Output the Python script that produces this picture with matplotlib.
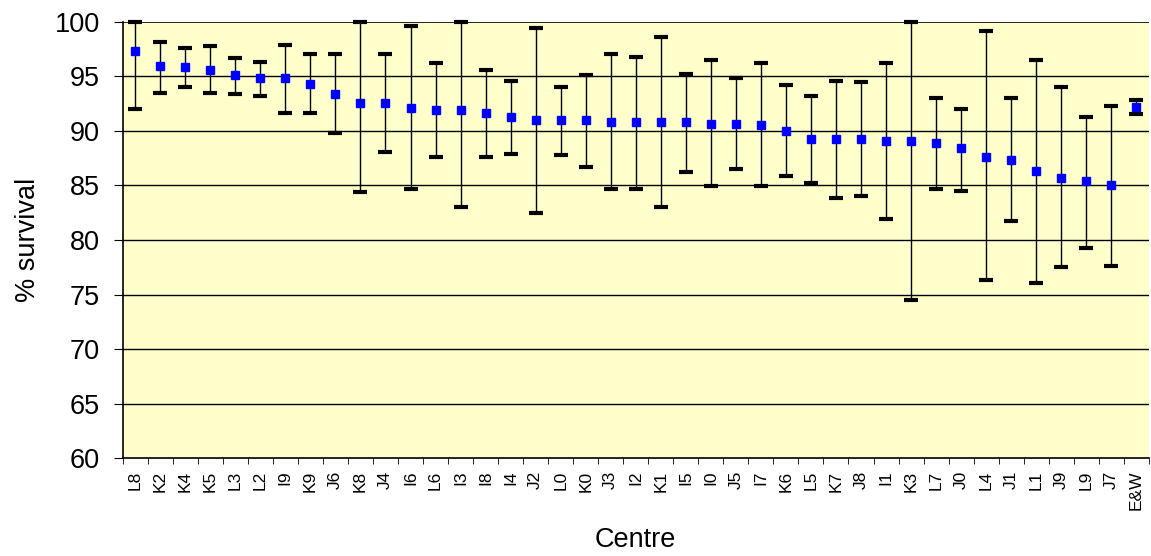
import matplotlib.pyplot as plt
import numpy as np

plt.rcParams["font.family"] = ["Liberation Sans", "DejaVu Sans"]

centres = ["L8", "K2", "K4", "K5", "L3", "L2", "I9", "K9", "J6", "K8",
           "J4", "I6", "L6", "I3", "I8", "I4", "J2", "L0", "K0", "J3",
           "I2", "K1", "I5", "I0", "J5", "I7", "K6", "L5", "K7", "J8",
           "I1", "K3", "L7", "J0", "L4", "J1", "L1", "J9", "L9", "J7", "E&W"]
survival = [97.3, 95.9, 95.8, 95.6, 95.1, 94.8, 94.8, 94.3, 93.4, 92.5,
            92.5, 92.1, 91.9, 91.9, 91.6, 91.3, 91.0, 91.0, 91.0, 90.8,
            90.8, 90.8, 90.8, 90.6, 90.6, 90.5, 90.0, 89.2, 89.2, 89.2,
            89.1, 89.1, 88.9, 88.4, 87.6, 87.3, 86.3, 85.7, 85.4, 85.0, 92.2]
lower = [92.0, 93.5, 94.0, 93.5, 93.4, 93.2, 91.6, 91.6, 89.8, 84.4,
         88.1, 84.7, 87.6, 83.0, 87.6, 87.9, 82.5, 87.8, 86.7, 84.7,
         84.7, 83.0, 86.2, 84.9, 86.5, 84.9, 85.9, 85.2, 83.8, 84.0,
         81.9, 74.5, 84.7, 84.5, 76.3, 81.7, 76.1, 77.5, 79.3, 77.6, 91.5]
upper = [100.0, 98.1, 97.6, 97.8, 96.7, 96.3, 97.9, 97.0, 97.0, 100.0,
         97.0, 99.6, 96.2, 100.0, 95.6, 94.6, 99.4, 94.0, 95.1, 97.0,
         96.8, 98.6, 95.2, 96.5, 94.8, 96.2, 94.2, 93.2, 94.6, 94.5,
         96.2, 100.0, 93.0, 92.0, 99.1, 93.0, 96.5, 94.0, 91.3, 92.3, 92.8]

x = np.arange(len(centres))
surv = np.array(survival)
yerr = [surv - np.array(lower), np.array(upper) - surv]

fig = plt.figure(figsize=(11.51, 5.56), dpi=100)
ax = fig.add_axes([0.1066, 0.1757, 0.8915, 0.7855])
ax.set_facecolor("#FFFFCC")

# horizontal gridlines every 5%
for v in range(65, 100, 5):
    ax.axhline(v, color="black", lw=1, zorder=1)

ax.errorbar(x, surv, yerr=yerr, fmt="none", ecolor="black", elinewidth=1,
            capsize=5, capthick=3, zorder=2, clip_on=False)
ax.plot(x, surv, "s", color="#0000FF", markersize=6, zorder=3)

ax.set_xlim(-0.5, len(centres) - 0.5)
ax.set_ylim(60, 100)
ax.set_yticks(range(60, 101, 5))
ax.set_xticks(x)
ax.set_xticklabels(centres, rotation=90, fontsize=12.5)
ax.set_xticks(np.arange(len(centres) + 1) - 0.5, minor=True)
ax.tick_params(axis="x", which="major", length=0, pad=9)
ax.tick_params(axis="x", which="minor", length=4, direction="out", color="black")
ax.tick_params(axis="y", labelsize=19.5, length=6.5, direction="out", pad=10)

for s in ["top", "right"]:
    ax.spines[s].set_visible(False)
ax.spines["left"].set_linewidth(1.2)
ax.spines["bottom"].set_linewidth(1.2)
ax.axhline(100, color="black", lw=1.2, zorder=1)

ax.set_xlabel("Centre", fontsize=19.5, labelpad=12)
ax.set_ylabel("% survival", fontsize=19.5, labelpad=10)

fig.savefig("out.png", dpi=100)
